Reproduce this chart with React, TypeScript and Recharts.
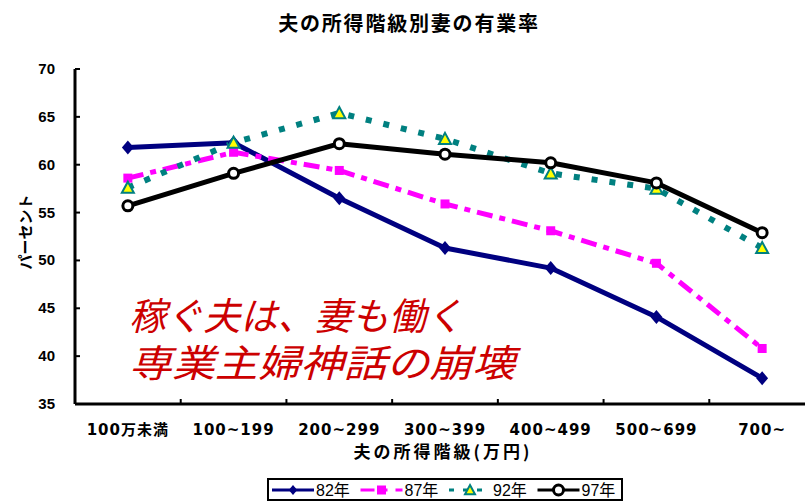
import React from 'react';
import { LineChart, Line, XAxis, YAxis, Legend } from 'recharts';

// ---- data ----
const categories = ['100万未満', '100~199', '200~299', '300~399', '400~499', '500~699', '700~'];
const s82 = [61.8, 62.3, 56.5, 51.3, 49.2, 44.1, 37.7];
const s87 = [58.6, 61.3, 59.4, 55.9, 53.1, 49.7, 40.8];
const s92 = [57.6, 62.3, 65.4, 62.7, 59.1, 57.5, 51.3];
const s97 = [55.7, 59.1, 62.2, 61.1, 60.2, 58.1, 52.9];
const yTicks = [35, 40, 45, 50, 55, 60, 65, 70];
const seriesNames = ['82年', '87年', '92年', '97年'];
const title = '夫の所得階級別妻の有業率';
const xLabel = '夫の所得階級(万円)';
const yLabel = 'パーセント';
const note1 = '稼ぐ夫は、妻も働く';
const note2 = '専業主婦神話の崩壊';

const data = categories.map((c, i) => ({
  cat: c,
  s82: s82[i],
  s87: s87[i],
  s92: s92[i],
  s97: s97[i],
}));

// ---- layout / style ----
const W = 828;
const H = 501;
const LEFT = 75;
const TOP = 69;
const RIGHT = 13;
const XAXIS_H = 97;
const HALF_BAND = (W - LEFT - RIGHT) / categories.length / 2;
const CJK = "'Noto Sans CJK JP', 'Noto Sans', sans-serif";

const NAVY = '#000080';
const MAGENTA = '#FF00FF';
const TEAL = '#008080';
const YELLOW = '#FFFF00';

const Diamond = (cx: number, cy: number, s: number, key?: any) => (
  <polygon key={key} points={`${cx},${cy - s} ${cx + s * 0.85},${cy} ${cx},${cy + s} ${cx - s * 0.85},${cy}`} fill={NAVY} />
);
const Square = (cx: number, cy: number, s: number, key?: any) => (
  <rect key={key} x={cx - s} y={cy - s} width={s * 2} height={s * 2} fill={MAGENTA} />
);
const Triangle = (cx: number, cy: number, s: number, key?: any) => (
  <polygon key={key} points={`${cx},${cy - s} ${cx + s},${cy + s * 0.85} ${cx - s},${cy + s * 0.85}`} fill={YELLOW} stroke={TEAL} strokeWidth={2} />
);
const Circle = (cx: number, cy: number, s: number, key?: any) => (
  <circle key={key} cx={cx} cy={cy} r={s} fill="#fff" stroke="#000" strokeWidth={3} />
);

const seriesStyles = [
  { key: 's82', color: NAVY, dash: undefined as string | undefined, width: 5, marker: Diamond, ms: 7, legendDash: undefined as string | undefined },
  { key: 's87', color: MAGENTA, dash: '16 7 6 7', width: 5, marker: Square, ms: 4.5, legendDash: '14 8 5 8' },
  { key: 's92', color: TEAL, dash: '6 12', width: 6, marker: Triangle, ms: 6, legendDash: '5 9' },
  { key: 's97', color: '#000', dash: undefined as string | undefined, width: 5, marker: Circle, ms: 5, legendDash: undefined as string | undefined },
];

const YTick = (p: any) => (
  <g>
    <line x1={p.x} x2={p.x + 5} y1={p.y} y2={p.y} stroke="#000" strokeWidth={2} />
    <text x={p.x - 20} y={p.y + 5} textAnchor="end" fontSize={15} fontWeight={700}
      fontFamily="'Liberation Sans', Arial, sans-serif" fill="#000">
      {p.payload.value}
    </text>
  </g>
);

const XTick = (p: any) => (
  <g>
    {p.index < categories.length - 1 && (
      <line x1={p.x + HALF_BAND} x2={p.x + HALF_BAND} y1={p.y} y2={p.y - 5} stroke="#000" strokeWidth={2} />
    )}
    <text x={p.x} y={p.y + 31} textAnchor="middle" fontSize={15} fontWeight={700} letterSpacing={1}
      fontFamily={"'DejaVu Sans', " + CJK} fill="#000">
      {p.payload.value}
    </text>
  </g>
);

const renderLegend = () => (
  <div style={{ width: 356, height: 23, border: '2px solid #000', boxSizing: 'border-box', background: '#fff' }}>
    <svg width={352} height={19} style={{ display: 'block' }}>
      {seriesStyles.map((s, i) => {
        const x0 = 3 + i * 88.5;
        return (
          <g key={s.key}>
            <line x1={x0} x2={x0 + 42} y1={10} y2={10} stroke={s.color} strokeWidth={3} strokeDasharray={s.legendDash} />
            {s.marker(x0 + 21, 10, Math.min(s.ms, 5))}
            <text x={x0 + 44} y={16} fontSize={16} fontFamily={"'Liberation Sans', " + CJK} fill="#000">
              {seriesNames[i]}
            </text>
          </g>
        );
      })}
    </svg>
  </div>
);

export default function App() {
  return (
    <div style={{ position: 'fixed', left: 0, top: 0, width: 805, height: 501, overflow: 'hidden', background: '#fff' }}>
      <div style={{ position: 'relative', width: W, height: H }}>
        <LineChart width={W} height={H} data={data} margin={{ top: TOP, right: RIGHT, bottom: 0, left: 0 }}>
          <XAxis dataKey="cat" height={XAXIS_H} tickSize={0} tickMargin={0} interval={0}
            padding={{ left: HALF_BAND, right: HALF_BAND }}
            axisLine={{ stroke: '#000', strokeWidth: 3 }} tickLine={false} tick={<XTick />} />
          <YAxis width={LEFT} domain={[35, 70]} ticks={yTicks} tickSize={0} tickMargin={0} interval={0}
            allowDataOverflow axisLine={{ stroke: '#000', strokeWidth: 3 }} tickLine={false} tick={<YTick />} />
          <Legend content={renderLegend} layout="horizontal" verticalAlign="middle" align="center"
            wrapperStyle={{ position: 'absolute', left: 267, top: 478, width: 356, height: 23 }} />
          {seriesStyles.map((s, i) => (
            <Line key={s.key} type="linear" dataKey={s.key} name={seriesNames[i]} stroke={s.color}
              strokeWidth={s.width} strokeDasharray={s.dash} strokeLinejoin="round"
              isAnimationActive={false}
              dot={(p: any) => s.marker(p.cx, p.cy, s.ms, `${s.key}-${p.index}`)}
              activeDot={false} />
          ))}
        </LineChart>
        <svg width={805} height={501} style={{ position: 'absolute', left: 0, top: 0, pointerEvents: 'none' }}>
          <text x={409} y={31} textAnchor="middle" fontSize={20} fontWeight={700} letterSpacing={1.8}
            fontFamily={CJK} fill="#000">{title}</text>
          <text x={443} y={458} textAnchor="middle" fontSize={17} fontWeight={700} letterSpacing={3}
            fontFamily={CJK} fill="#000">{xLabel}</text>
          <text transform="translate(31,232) rotate(-90)" textAnchor="middle" fontSize={15} fontWeight={700}
            fontFamily={CJK} fill="#000">{yLabel}</text>
          <text x={129} y={330} fontSize={38} fontStyle="italic" textLength={334} lengthAdjust="spacingAndGlyphs"
            fontFamily={CJK} fill="#CC0000">{note1}</text>
          <text x={129} y={377} fontSize={38} fontStyle="italic" textLength={386} lengthAdjust="spacingAndGlyphs"
            fontFamily={CJK} fill="#CC0000">{note2}</text>
        </svg>
      </div>
    </div>
  );
}
